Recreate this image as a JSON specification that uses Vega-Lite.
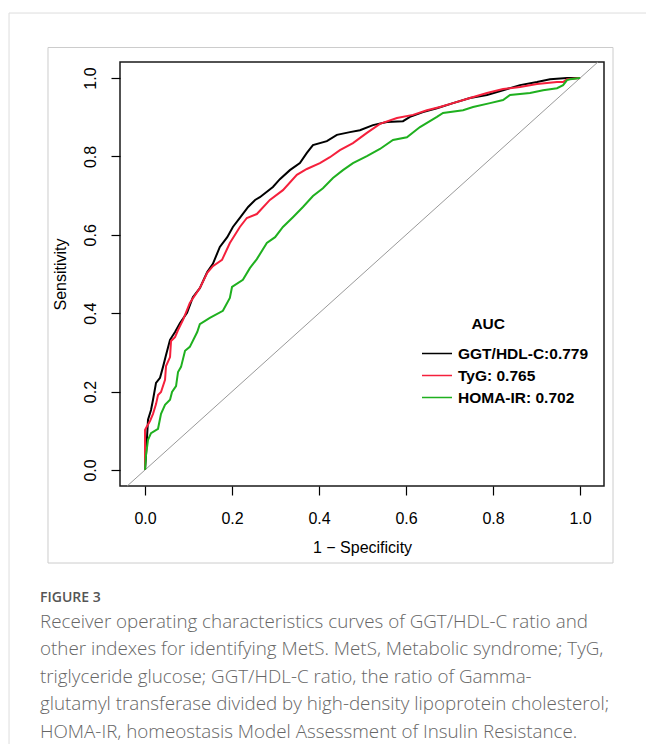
{
  "$schema": "https://vega.github.io/schema/vega-lite/v6.json",
  "width": 484,
  "height": 424,
  "autosize": {"type": "none"},
  "padding": {"left": 120, "top": 62, "right": 42, "bottom": 258},
  "background": "white",
  "config": {
    "view": {"stroke": "#1a1a1a", "strokeWidth": 1.5},
    "axis": {"domain": false, "grid": false, "tickColor": "#000", "tickWidth": 1.2, "labelFont": "Liberation Sans", "labelFontSize": 16, "labelColor": "#000", "titleFont": "Liberation Sans", "titleFontSize": 16, "titleFontWeight": "normal", "titleColor": "#000"},
    "legend": {"orient": "none", "legendX": 301, "legendY": 255, "padding": 0, "symbolType": "stroke", "symbolSize": 900, "symbolStrokeWidth": 1.5, "clipHeight": 16, "rowPadding": 5, "labelOffset": 5, "labelFont": "Liberation Sans", "labelFontSize": 15.5, "labelFontWeight": "bold", "labelColor": "#000", "labelLimit": 300, "titleFont": "Liberation Sans", "titleFontSize": 15.5, "titleFontWeight": "bold", "titleColor": "#000", "titleAnchor": "middle", "titleAlign": "right", "titlePadding": 13}
  },
  "title": {
    "text": "FIGURE 3",
    "subtitle": [
      "Receiver operating characteristics curves of GGT/HDL-C ratio and",
      "other indexes for identifying MetS. MetS, Metabolic syndrome; TyG,",
      "triglyceride glucose; GGT/HDL-C ratio, the ratio of Gamma-",
      "glutamyl transferase divided by high-density lipoprotein cholesterol;",
      "HOMA-IR, homeostasis Model Assessment of Insulin Resistance."
    ],
    "orient": "bottom", "anchor": "start", "frame": "group", "dx": -80, "offset": -156, "limit": 1000,
    "font": "Open Sans", "fontSize": 14, "fontWeight": 600, "color": "#555555",
    "subtitleFont": "Open Sans", "subtitleFontSize": 18.8, "subtitleFontWeight": 300, "subtitleColor": "#666666", "subtitleLineHeight": 27.5, "subtitlePadding": 8
  },
  "layer": [
    {
      "data": {"values": [{}]},
      "mark": {"type": "rect", "fill": null, "fillOpacity": 0, "stroke": "#dddddd", "strokeWidth": 1, "clip": false},
      "encoding": {
        "x": {"datum": -0.3126, "type": "quantitative", "scale": {"domain": [-0.0575, 1.055], "nice": false, "zero": false}},
        "x2": {"datum": 1.161},
        "y": {"datum": 1.166, "type": "quantitative", "scale": {"domain": [-0.041, 1.041], "nice": false, "zero": false}},
        "y2": {"datum": -0.7045}
      }
    },
    {
      "data": {"values": [{}]},
      "mark": {"type": "rect", "fill": null, "fillOpacity": 0, "stroke": "#cccccc", "strokeWidth": 1, "clip": false},
      "encoding": {
        "x": {"datum": -0.223, "type": "quantitative", "scale": {"domain": [-0.0575, 1.055], "nice": false, "zero": false}},
        "x2": {"datum": 1.0757},
        "y": {"datum": 1.078, "type": "quantitative", "scale": {"domain": [-0.041, 1.041], "nice": false, "zero": false}},
        "y2": {"datum": -0.2375}
      }
    },
    {
      "data": {"values": [{}]},
      "mark": {"type": "rule", "color": "#999999", "strokeWidth": 1},
      "encoding": {
        "x": {"datum": -0.041, "type": "quantitative", "scale": {"domain": [-0.0575, 1.055], "nice": false, "zero": false}},
        "x2": {"datum": 1.041},
        "y": {"datum": -0.041, "type": "quantitative", "scale": {"domain": [-0.041, 1.041], "nice": false, "zero": false}},
        "y2": {"datum": 1.041}
      }
    },
    {
      "data": {"values": [
        {"m": "GGT/HDL-C:0.779", "i": 0, "x": 0, "y": 0},
        {"m": "GGT/HDL-C:0.779", "i": 1, "x": 0.0023, "y": 0.038},
        {"m": "GGT/HDL-C:0.779", "i": 2, "x": 0.0069, "y": 0.128},
        {"m": "GGT/HDL-C:0.779", "i": 3, "x": 0.0138, "y": 0.153},
        {"m": "GGT/HDL-C:0.779", "i": 4, "x": 0.0184, "y": 0.179},
        {"m": "GGT/HDL-C:0.779", "i": 5, "x": 0.0253, "y": 0.222},
        {"m": "GGT/HDL-C:0.779", "i": 6, "x": 0.0345, "y": 0.235},
        {"m": "GGT/HDL-C:0.779", "i": 7, "x": 0.0414, "y": 0.263},
        {"m": "GGT/HDL-C:0.779", "i": 8, "x": 0.0483, "y": 0.293},
        {"m": "GGT/HDL-C:0.779", "i": 9, "x": 0.0575, "y": 0.332},
        {"m": "GGT/HDL-C:0.779", "i": 10, "x": 0.069, "y": 0.352},
        {"m": "GGT/HDL-C:0.779", "i": 11, "x": 0.0805, "y": 0.375},
        {"m": "GGT/HDL-C:0.779", "i": 12, "x": 0.0966, "y": 0.401},
        {"m": "GGT/HDL-C:0.779", "i": 13, "x": 0.110, "y": 0.441},
        {"m": "GGT/HDL-C:0.779", "i": 14, "x": 0.126, "y": 0.464},
        {"m": "GGT/HDL-C:0.779", "i": 15, "x": 0.143, "y": 0.505},
        {"m": "GGT/HDL-C:0.779", "i": 16, "x": 0.156, "y": 0.526},
        {"m": "GGT/HDL-C:0.779", "i": 17, "x": 0.172, "y": 0.569},
        {"m": "GGT/HDL-C:0.779", "i": 18, "x": 0.189, "y": 0.594},
        {"m": "GGT/HDL-C:0.779", "i": 19, "x": 0.202, "y": 0.620},
        {"m": "GGT/HDL-C:0.779", "i": 20, "x": 0.218, "y": 0.643},
        {"m": "GGT/HDL-C:0.779", "i": 21, "x": 0.237, "y": 0.671},
        {"m": "GGT/HDL-C:0.779", "i": 22, "x": 0.253, "y": 0.689},
        {"m": "GGT/HDL-C:0.779", "i": 23, "x": 0.264, "y": 0.696},
        {"m": "GGT/HDL-C:0.779", "i": 24, "x": 0.294, "y": 0.722},
        {"m": "GGT/HDL-C:0.779", "i": 25, "x": 0.310, "y": 0.742},
        {"m": "GGT/HDL-C:0.779", "i": 26, "x": 0.333, "y": 0.765},
        {"m": "GGT/HDL-C:0.779", "i": 27, "x": 0.356, "y": 0.783},
        {"m": "GGT/HDL-C:0.779", "i": 28, "x": 0.372, "y": 0.809},
        {"m": "GGT/HDL-C:0.779", "i": 29, "x": 0.386, "y": 0.829},
        {"m": "GGT/HDL-C:0.779", "i": 30, "x": 0.418, "y": 0.839},
        {"m": "GGT/HDL-C:0.779", "i": 31, "x": 0.441, "y": 0.855},
        {"m": "GGT/HDL-C:0.779", "i": 32, "x": 0.471, "y": 0.862},
        {"m": "GGT/HDL-C:0.779", "i": 33, "x": 0.494, "y": 0.867},
        {"m": "GGT/HDL-C:0.779", "i": 34, "x": 0.524, "y": 0.880},
        {"m": "GGT/HDL-C:0.779", "i": 35, "x": 0.556, "y": 0.888},
        {"m": "GGT/HDL-C:0.779", "i": 36, "x": 0.593, "y": 0.890},
        {"m": "GGT/HDL-C:0.779", "i": 37, "x": 0.609, "y": 0.901},
        {"m": "GGT/HDL-C:0.779", "i": 38, "x": 0.639, "y": 0.913},
        {"m": "GGT/HDL-C:0.779", "i": 39, "x": 0.671, "y": 0.923},
        {"m": "GGT/HDL-C:0.779", "i": 40, "x": 0.708, "y": 0.936},
        {"m": "GGT/HDL-C:0.779", "i": 41, "x": 0.747, "y": 0.949},
        {"m": "GGT/HDL-C:0.779", "i": 42, "x": 0.786, "y": 0.957},
        {"m": "GGT/HDL-C:0.779", "i": 43, "x": 0.823, "y": 0.969},
        {"m": "GGT/HDL-C:0.779", "i": 44, "x": 0.862, "y": 0.982},
        {"m": "GGT/HDL-C:0.779", "i": 45, "x": 0.901, "y": 0.990},
        {"m": "GGT/HDL-C:0.779", "i": 46, "x": 0.931, "y": 0.997},
        {"m": "GGT/HDL-C:0.779", "i": 47, "x": 0.970, "y": 1.0},
        {"m": "GGT/HDL-C:0.779", "i": 48, "x": 1.0, "y": 1.0},
        {"m": "TyG: 0.765", "i": 0, "x": 0, "y": 0},
        {"m": "TyG: 0.765", "i": 1, "x": 0, "y": 0.102},
        {"m": "TyG: 0.765", "i": 2, "x": 0.0023, "y": 0.107},
        {"m": "TyG: 0.765", "i": 3, "x": 0.0115, "y": 0.125},
        {"m": "TyG: 0.765", "i": 4, "x": 0.0184, "y": 0.143},
        {"m": "TyG: 0.765", "i": 5, "x": 0.0253, "y": 0.168},
        {"m": "TyG: 0.765", "i": 6, "x": 0.0299, "y": 0.191},
        {"m": "TyG: 0.765", "i": 7, "x": 0.0368, "y": 0.199},
        {"m": "TyG: 0.765", "i": 8, "x": 0.046, "y": 0.230},
        {"m": "TyG: 0.765", "i": 9, "x": 0.0483, "y": 0.265},
        {"m": "TyG: 0.765", "i": 10, "x": 0.0575, "y": 0.288},
        {"m": "TyG: 0.765", "i": 11, "x": 0.0598, "y": 0.329},
        {"m": "TyG: 0.765", "i": 12, "x": 0.069, "y": 0.339},
        {"m": "TyG: 0.765", "i": 13, "x": 0.0759, "y": 0.357},
        {"m": "TyG: 0.765", "i": 14, "x": 0.0874, "y": 0.383},
        {"m": "TyG: 0.765", "i": 15, "x": 0.103, "y": 0.426},
        {"m": "TyG: 0.765", "i": 16, "x": 0.126, "y": 0.464},
        {"m": "TyG: 0.765", "i": 17, "x": 0.143, "y": 0.503},
        {"m": "TyG: 0.765", "i": 18, "x": 0.156, "y": 0.520},
        {"m": "TyG: 0.765", "i": 19, "x": 0.177, "y": 0.536},
        {"m": "TyG: 0.765", "i": 20, "x": 0.195, "y": 0.579},
        {"m": "TyG: 0.765", "i": 21, "x": 0.218, "y": 0.620},
        {"m": "TyG: 0.765", "i": 22, "x": 0.234, "y": 0.643},
        {"m": "TyG: 0.765", "i": 23, "x": 0.257, "y": 0.653},
        {"m": "TyG: 0.765", "i": 24, "x": 0.287, "y": 0.689},
        {"m": "TyG: 0.765", "i": 25, "x": 0.317, "y": 0.714},
        {"m": "TyG: 0.765", "i": 26, "x": 0.349, "y": 0.753},
        {"m": "TyG: 0.765", "i": 27, "x": 0.372, "y": 0.768},
        {"m": "TyG: 0.765", "i": 28, "x": 0.402, "y": 0.783},
        {"m": "TyG: 0.765", "i": 29, "x": 0.425, "y": 0.798},
        {"m": "TyG: 0.765", "i": 30, "x": 0.448, "y": 0.816},
        {"m": "TyG: 0.765", "i": 31, "x": 0.478, "y": 0.834},
        {"m": "TyG: 0.765", "i": 32, "x": 0.510, "y": 0.860},
        {"m": "TyG: 0.765", "i": 33, "x": 0.540, "y": 0.883},
        {"m": "TyG: 0.765", "i": 34, "x": 0.579, "y": 0.898},
        {"m": "TyG: 0.765", "i": 35, "x": 0.616, "y": 0.906},
        {"m": "TyG: 0.765", "i": 36, "x": 0.648, "y": 0.918},
        {"m": "TyG: 0.765", "i": 37, "x": 0.678, "y": 0.926},
        {"m": "TyG: 0.765", "i": 38, "x": 0.708, "y": 0.936},
        {"m": "TyG: 0.765", "i": 39, "x": 0.747, "y": 0.949},
        {"m": "TyG: 0.765", "i": 40, "x": 0.786, "y": 0.962},
        {"m": "TyG: 0.765", "i": 41, "x": 0.823, "y": 0.972},
        {"m": "TyG: 0.765", "i": 42, "x": 0.862, "y": 0.977},
        {"m": "TyG: 0.765", "i": 43, "x": 0.901, "y": 0.985},
        {"m": "TyG: 0.765", "i": 44, "x": 0.947, "y": 0.990},
        {"m": "TyG: 0.765", "i": 45, "x": 0.961, "y": 0.990},
        {"m": "TyG: 0.765", "i": 46, "x": 0.970, "y": 0.997},
        {"m": "TyG: 0.765", "i": 47, "x": 1.0, "y": 1.0},
        {"m": "HOMA-IR: 0.702", "i": 0, "x": 0, "y": 0},
        {"m": "HOMA-IR: 0.702", "i": 1, "x": 0.0023, "y": 0.038},
        {"m": "HOMA-IR: 0.702", "i": 2, "x": 0.0069, "y": 0.077},
        {"m": "HOMA-IR: 0.702", "i": 3, "x": 0.0138, "y": 0.094},
        {"m": "HOMA-IR: 0.702", "i": 4, "x": 0.0299, "y": 0.105},
        {"m": "HOMA-IR: 0.702", "i": 5, "x": 0.0368, "y": 0.143},
        {"m": "HOMA-IR: 0.702", "i": 6, "x": 0.046, "y": 0.166},
        {"m": "HOMA-IR: 0.702", "i": 7, "x": 0.0575, "y": 0.179},
        {"m": "HOMA-IR: 0.702", "i": 8, "x": 0.0621, "y": 0.199},
        {"m": "HOMA-IR: 0.702", "i": 9, "x": 0.0713, "y": 0.214},
        {"m": "HOMA-IR: 0.702", "i": 10, "x": 0.0759, "y": 0.250},
        {"m": "HOMA-IR: 0.702", "i": 11, "x": 0.0828, "y": 0.263},
        {"m": "HOMA-IR: 0.702", "i": 12, "x": 0.092, "y": 0.304},
        {"m": "HOMA-IR: 0.702", "i": 13, "x": 0.103, "y": 0.314},
        {"m": "HOMA-IR: 0.702", "i": 14, "x": 0.120, "y": 0.352},
        {"m": "HOMA-IR: 0.702", "i": 15, "x": 0.126, "y": 0.372},
        {"m": "HOMA-IR: 0.702", "i": 16, "x": 0.149, "y": 0.388},
        {"m": "HOMA-IR: 0.702", "i": 17, "x": 0.179, "y": 0.406},
        {"m": "HOMA-IR: 0.702", "i": 18, "x": 0.195, "y": 0.439},
        {"m": "HOMA-IR: 0.702", "i": 19, "x": 0.200, "y": 0.467},
        {"m": "HOMA-IR: 0.702", "i": 20, "x": 0.225, "y": 0.485},
        {"m": "HOMA-IR: 0.702", "i": 21, "x": 0.241, "y": 0.515},
        {"m": "HOMA-IR: 0.702", "i": 22, "x": 0.257, "y": 0.538},
        {"m": "HOMA-IR: 0.702", "i": 23, "x": 0.280, "y": 0.579},
        {"m": "HOMA-IR: 0.702", "i": 24, "x": 0.299, "y": 0.594},
        {"m": "HOMA-IR: 0.702", "i": 25, "x": 0.317, "y": 0.620},
        {"m": "HOMA-IR: 0.702", "i": 26, "x": 0.340, "y": 0.645},
        {"m": "HOMA-IR: 0.702", "i": 27, "x": 0.363, "y": 0.671},
        {"m": "HOMA-IR: 0.702", "i": 28, "x": 0.386, "y": 0.699},
        {"m": "HOMA-IR: 0.702", "i": 29, "x": 0.409, "y": 0.719},
        {"m": "HOMA-IR: 0.702", "i": 30, "x": 0.432, "y": 0.745},
        {"m": "HOMA-IR: 0.702", "i": 31, "x": 0.455, "y": 0.765},
        {"m": "HOMA-IR: 0.702", "i": 32, "x": 0.478, "y": 0.783},
        {"m": "HOMA-IR: 0.702", "i": 33, "x": 0.510, "y": 0.801},
        {"m": "HOMA-IR: 0.702", "i": 34, "x": 0.540, "y": 0.819},
        {"m": "HOMA-IR: 0.702", "i": 35, "x": 0.570, "y": 0.842},
        {"m": "HOMA-IR: 0.702", "i": 36, "x": 0.602, "y": 0.849},
        {"m": "HOMA-IR: 0.702", "i": 37, "x": 0.632, "y": 0.875},
        {"m": "HOMA-IR: 0.702", "i": 38, "x": 0.671, "y": 0.901},
        {"m": "HOMA-IR: 0.702", "i": 39, "x": 0.685, "y": 0.911},
        {"m": "HOMA-IR: 0.702", "i": 40, "x": 0.731, "y": 0.918},
        {"m": "HOMA-IR: 0.702", "i": 41, "x": 0.754, "y": 0.926},
        {"m": "HOMA-IR: 0.702", "i": 42, "x": 0.793, "y": 0.936},
        {"m": "HOMA-IR: 0.702", "i": 43, "x": 0.823, "y": 0.944},
        {"m": "HOMA-IR: 0.702", "i": 44, "x": 0.839, "y": 0.957},
        {"m": "HOMA-IR: 0.702", "i": 45, "x": 0.885, "y": 0.962},
        {"m": "HOMA-IR: 0.702", "i": 46, "x": 0.915, "y": 0.969},
        {"m": "HOMA-IR: 0.702", "i": 47, "x": 0.947, "y": 0.974},
        {"m": "HOMA-IR: 0.702", "i": 48, "x": 0.961, "y": 0.982},
        {"m": "HOMA-IR: 0.702", "i": 49, "x": 0.970, "y": 0.995},
        {"m": "HOMA-IR: 0.702", "i": 50, "x": 0.977, "y": 0.997},
        {"m": "HOMA-IR: 0.702", "i": 51, "x": 1.0, "y": 1.0}
      ]},
      "mark": {"type": "line", "strokeWidth": 2, "clip": true},
      "encoding": {
        "x": {"field": "x", "type": "quantitative", "title": "1 − Specificity",
              "scale": {"domain": [-0.0575, 1.055], "nice": false, "zero": false},
              "axis": {"values": [0, 0.2, 0.4, 0.6, 0.8, 1.0], "format": ".1f", "tickSize": 9, "labelPadding": 15, "titlePadding": 13, "labelFlush": false, "labelOverlap": false}},
        "y": {"field": "y", "type": "quantitative", "title": "Sensitivity",
              "scale": {"domain": [-0.041, 1.041], "nice": false, "zero": false},
              "axis": {"values": [0, 0.2, 0.4, 0.6, 0.8, 1.0], "format": ".1f", "tickSize": 9, "labelAngle": 270, "labelAlign": "center", "labelBaseline": "bottom", "labelPadding": 13, "titlePadding": 13.5, "labelFlush": false, "labelOverlap": false}},
        "color": {"field": "m", "type": "nominal", "title": "AUC",
                  "scale": {"domain": ["GGT/HDL-C:0.779", "TyG: 0.765", "HOMA-IR: 0.702"], "range": ["#000000", "#f5203c", "#1fb01f"]}},
        "order": {"field": "i", "type": "quantitative"}
      }
    }
  ]
}
